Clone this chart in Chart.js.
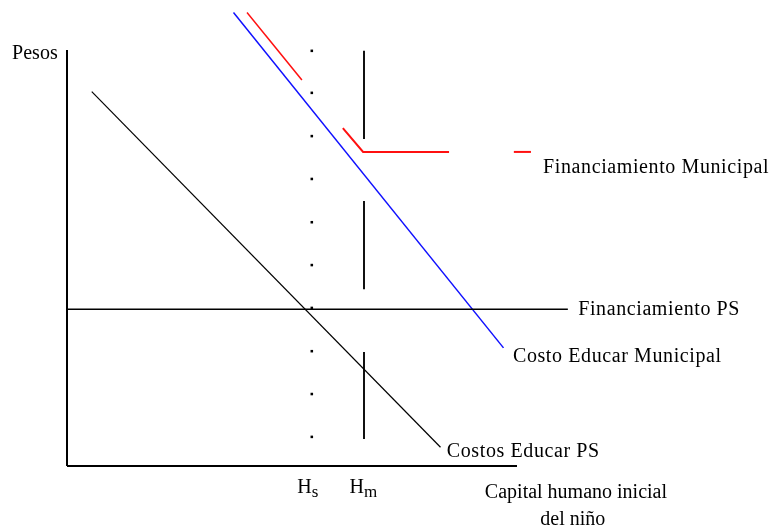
<!DOCTYPE html>
<html>
<head>
<meta charset="utf-8">
<script src="https://cdn.jsdelivr.net/npm/chart.js@4.4.1/dist/chart.umd.min.js"></script>
<style>
    body { margin: 0; background: #fff; }
    #wrap { width: 773px; height: 528px; position: relative; }
</style>
</head>
<body>
<div id="wrap"><canvas id="diagram"></canvas></div>
<script>
// Schematic values, axis runs 0..100 on both sides
const costPS = [{ x: 5.5, y: 90 }, { x: 83, y: 4.5 }];
const costMunicipal = [{ x: 37, y: 109 }, { x: 97, y: 28.4 }];
const finMunicipalUpper = [{ x: 40, y: 109 }, { x: 52.2, y: 92.8 }];
const finMunicipalLower = [{ x: 61.3, y: 81.2 }, { x: 65.8, y: 75.5 }, { x: 84.9, y: 75.5 }];
const finMunicipalKey = [{ x: 99.3, y: 75.5 }, { x: 103.1, y: 75.5 }];
const finPS = [{ x: 0, y: 37.7 }, { x: 111.3, y: 37.7 }];

const hsValue = 54.4;
const hmValue = 66;
const hsDots = [7, 17.3, 27.6, 38, 48.3, 58.6, 69, 79.3, 89.7, 99.8];
const hmSegments = [[99.8, 78.6], [63.7, 42.5], [27.4, 6.5]];

const axisX = [{ x: 0, y: 0 }, { x: 100, y: 0 }];
const axisY = [{ x: 0, y: 0 }, { x: 0, y: 100 }];

const labels = ['Pesos', 'Financiamiento Municipal', 'Financiamiento PS', 'Costo Educar Municipal',
    'Costos Educar PS', 'Capital humano inicial', 'del niño'];
const tickLabels = [['H', 's'], ['H', 'm']];

// Build the broken vertical line at Hm (null points make gaps)
const hmLine = [];
hmSegments.forEach((seg, i) => {
    if (i > 0) hmLine.push({ x: hmValue, y: null });
    hmLine.push({ x: hmValue, y: seg[0] });
    hmLine.push({ x: hmValue, y: seg[1] });
});

// Function to make one line dataset
function lineSet(data, color, width) {
    return {
        data: data,
        showLine: true,
        borderColor: color,
        borderWidth: width,
        pointRadius: 0,
        spanGaps: false,
        clip: false
    };
}

// Plugin that writes the text labels next to the lines
const textPlugin = {
    id: 'diagramText',
    afterDatasetsDraw(chart) {
        const ctx = chart.ctx;
        const xs = chart.scales.x;
        const ys = chart.scales.y;
        const spots = [
            [-12.2, 97.8, 0, 'left'],
            [105.8, 70.4, 0.6, 'left'],
            [113.6, 36.3, 0.6, 'left'],
            [99.1, 25, 0.6, 'left'],
            [84.4, 2.2, 0.6, 'left'],
            [113.1, -7.7, 0, 'center'],
            [112.4, -14.2, 0, 'center']
        ];
        ctx.save();
        ctx.fillStyle = '#000';
        ctx.textBaseline = 'alphabetic';
        labels.forEach((txt, i) => {
            const s = spots[i];
            ctx.font = '20px "Liberation Serif", serif';
            ctx.letterSpacing = s[2] + 'px';
            ctx.textAlign = s[3];
            ctx.fillText(txt, xs.getPixelForValue(s[0]), ys.getPixelForValue(s[1]));
        });

        // H with subscript under the two marks on the x axis
        ctx.letterSpacing = '0px';
        [hsValue, hmValue].forEach((v, i) => {
            const px = xs.getPixelForValue(v);
            const base = ys.getPixelForValue(-6.5);
            ctx.font = '20px "Liberation Serif", serif';
            ctx.textAlign = 'right';
            ctx.fillText(tickLabels[i][0], px, base);
            ctx.font = '17px "Liberation Serif", serif';
            ctx.textAlign = 'left';
            ctx.fillText(tickLabels[i][1], px, base + 4);
        });
        ctx.restore();
    }
};

const ctx = document.getElementById('diagram').getContext('2d');
new Chart(ctx, {
    type: 'scatter',
    data: {
        datasets: [
            lineSet(axisY, '#000', 2),
            lineSet(axisX, '#000', 2),
            lineSet(finPS, '#000', 1.5),
            lineSet(costPS, '#000', 1.2),
            lineSet(costMunicipal, '#1010ff', 1.5),
            lineSet(finMunicipalUpper, '#ff1010', 1.5),
            lineSet(finMunicipalLower, '#ff1010', 2),
            lineSet(finMunicipalKey, '#ff1010', 2),
            lineSet(hmLine, '#111', 2),
            {
                data: hsDots.map(v => ({ x: hsValue, y: v })),
                showLine: false,
                pointStyle: 'rect',
                pointRadius: 1.8,
                backgroundColor: '#000',
                borderWidth: 0,
                clip: false
            }
        ]
    },
    options: {
        responsive: true,
        maintainAspectRatio: false,
        animation: false,
        layout: {
            padding: { left: 67, right: 256, top: 50, bottom: 62 }
        },
        scales: {
            x: { type: 'linear', min: 0, max: 100, display: false },
            y: { type: 'linear', min: 0, max: 100, display: false }
        },
        plugins: {
            legend: { display: false },
            tooltip: { enabled: false }
        }
    },
    plugins: [textPlugin]
});
</script>
</body>
</html>
